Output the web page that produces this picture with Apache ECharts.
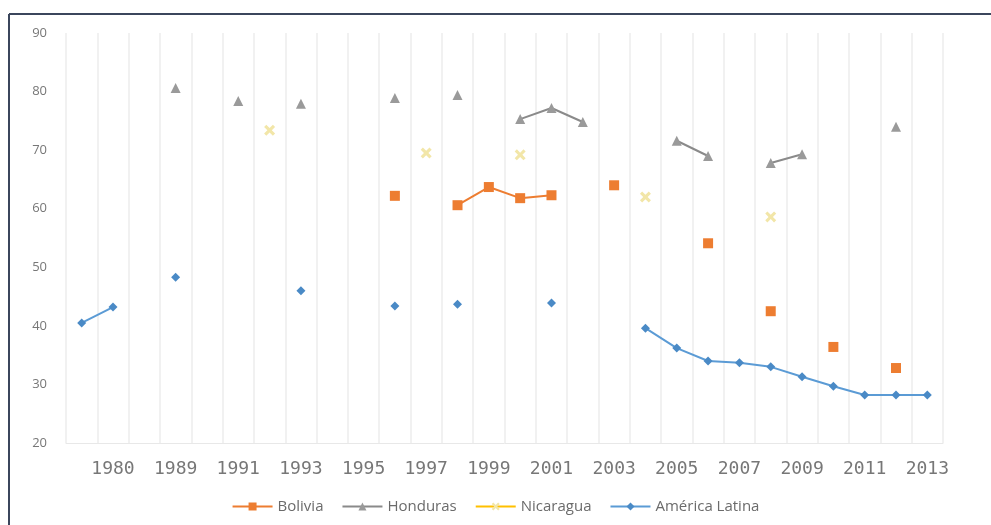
<!DOCTYPE html>
<html>
<head>
<meta charset="utf-8">
<script src="https://cdn.jsdelivr.net/npm/echarts@6/dist/echarts.min.js"></script>
<style>
html,body{margin:0;padding:0;background:#fff;}
#c{width:991px;height:525px;}
</style>
</head>
<body>
<div id="c"></div>
<script>
const categories = ["1979","1980","1986","1989","1990","1991","1992","1993","1994","1995","1996","1997","1998","1999","2000","2001","2002","2003","2004","2005","2006","2007","2008","2009","2010","2011","2012","2013"];
const bolivia = [null,null,null,null,null,null,null,null,null,null,62.2,null,60.6,63.7,61.8,62.3,null,64.0,null,null,54.1,null,42.5,null,36.4,null,32.8,null];
const honduras = [null,null,null,80.6,null,78.4,null,77.9,null,null,78.9,null,79.4,null,75.3,77.2,74.8,null,null,71.6,69.0,null,67.8,69.3,null,null,74.0,null];
const nicaragua = [null,null,null,null,null,null,73.4,null,null,null,null,69.5,null,null,69.2,null,null,null,62.0,null,null,null,58.6,null,null,null,null,null];
const americaLatina = [40.5,43.2,null,48.3,null,null,null,46.0,null,null,43.4,null,43.7,null,null,43.9,null,null,39.6,36.2,34.0,33.7,33.0,31.3,29.7,28.2,28.2,28.2];
const yTicks = {min:20, max:90, interval:10};

const xMark = 'path://M0,2L2,0L5,3L8,0L10,2L7,5L10,8L8,10L5,7L2,10L0,8L3,5Z';

const chart = echarts.init(document.getElementById('c'), null, {renderer:'canvas'});
chart.setOption({
  animation:false,
  backgroundColor:'#ffffff',
  grid:{left:66, right:48, top:33, bottom:82, containLabel:false},
  graphic:[
    {type:'line', shape:{x1:9, y1:14, x2:991, y2:14}, style:{stroke:'#3b465c', lineWidth:2}},
    {type:'line', shape:{x1:9, y1:14, x2:9, y2:525}, style:{stroke:'#3b465c', lineWidth:2}}
  ],
  legend:{
    top:494, left:'center', itemWidth:40, itemHeight:10, itemGap:18,
    textStyle:{color:'#6b6b6b', fontSize:15, fontFamily:'Open Sans'},
    data:['Bolivia','Honduras','Nicaragua','América Latina']
  },
  xAxis:{
    type:'category', data:categories, boundaryGap:true,
    axisLine:{show:true, lineStyle:{color:'#e8e8e8'}},
    axisTick:{show:false},
    axisLabel:{
      interval:function(i){return i % 2 === 1;},
      color:'#777777', fontSize:18, fontFamily:'DejaVu Sans Mono', margin:17
    },
    splitLine:{show:true, interval:0, lineStyle:{color:'#ececec', width:1.5}}
  },
  yAxis:{
    type:'value', min:yTicks.min, max:yTicks.max, interval:yTicks.interval,
    axisLine:{show:false}, axisTick:{show:false},
    axisLabel:{color:'#777777', fontSize:13, fontFamily:'Open Sans', margin:19},
    splitLine:{show:false}
  },
  series:[
    {name:'Bolivia', type:'line', data:bolivia, connectNulls:false,
     symbol:'rect', symbolSize:10,
     lineStyle:{color:'#ED7D31', width:2}, itemStyle:{color:'#ED7D31'}},
    {name:'Honduras', type:'line', data:honduras, connectNulls:false,
     symbol:'triangle', symbolSize:10,
     lineStyle:{color:'#8a8a8a', width:2}, itemStyle:{color:'#9a9a9a'}},
    {name:'Nicaragua', type:'line', data:nicaragua, connectNulls:false,
     symbol:xMark, symbolSize:11,
     lineStyle:{color:'#FFC000', width:2}, itemStyle:{color:'#f2e6a8'}},
    {name:'América Latina', type:'line', data:americaLatina, connectNulls:false,
     symbol:'diamond', symbolSize:9,
     lineStyle:{color:'#5B9BD5', width:2}, itemStyle:{color:'#4a8ac6'}}
  ]
});
</script>
</body>
</html>
